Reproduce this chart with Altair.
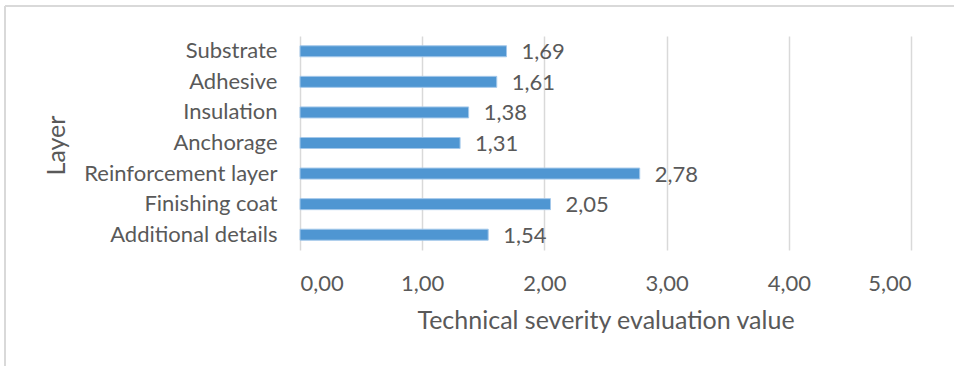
import altair as alt
import pandas as pd

# Layer categories (top to bottom) and their technical severity evaluation values
layers = [
    "Substrate",
    "Adhesive",
    "Insulation",
    "Anchorage",
    "Reinforcement layer",
    "Finishing coat",
    "Additional details",
]
values = [1.69, 1.61, 1.38, 1.31, 2.78, 2.05, 1.54]
x_ticks = [0, 1, 2, 3, 4, 5]

df = pd.DataFrame({"layer": layers, "value": values})

FONT = "Lato"
TEXT = "#595959"
GRID = "#D9D9D9"
comma_fmt = "replace(format(datum.value, '.2f'), '.', ',')"

x_enc = alt.X(
    "value:Q",
    scale=alt.Scale(domain=[0, 5], nice=False),
    axis=alt.Axis(
        values=x_ticks,
        labelExpr=comma_fmt,
        title="Technical severity evaluation value",
        grid=True,
        gridColor=GRID,
        gridWidth=1.5,
        domain=False,
        ticks=False,
        labelFont=FONT,
        labelFontSize=22,
        labelColor=TEXT,
        labelPadding=23,
        titleFont=FONT,
        titleFontSize=25,
        titleFontWeight="normal",
        titleColor=TEXT,
        titleBaseline="alphabetic",
        titleY=78,
    ),
)
y_enc = alt.Y(
    "layer:N",
    sort=layers,
    scale=alt.Scale(paddingInner=0, paddingOuter=0),
    axis=alt.Axis(
        title="Layer",
        domain=False,
        ticks=False,
        grid=False,
        labelFont=FONT,
        labelFontSize=22,
        labelColor=TEXT,
        labelPadding=23,
        labelLimit=0,
        titleFont=FONT,
        titleFontSize=25,
        titleFontWeight="normal",
        titleColor=TEXT,
        titleAngle=270,
        titleAlign="center",
        titleBaseline="middle",
        titleX=-244,
        titleY=109,
    ),
)

bars = alt.Chart(df).mark_bar(
    size=11, color="#4F96D2", stroke="#A4C8EA", strokeWidth=1
).encode(x=x_enc, y=y_enc)

labels = alt.Chart(df).transform_calculate(
    label=comma_fmt
).mark_text(
    align="left", baseline="middle", dx=15, dy=1,
    font=FONT, fontSize=22, color=TEXT
).encode(
    x=alt.X("value:Q"),
    y=alt.Y("layer:N", sort=layers),
    text="label:N",
)

# light frame lines along the top and left of the chart
frame_top = alt.Chart(df).mark_rule(color=GRID, strokeWidth=1.5).encode(
    x=alt.value(-295), x2=alt.value(660), y=alt.value(-30)
)
frame_left = alt.Chart(df).mark_rule(color=GRID, strokeWidth=1.5).encode(
    x=alt.value(-295), y=alt.value(-30), y2=alt.value(340)
)

chart = alt.layer(bars, labels, frame_top, frame_left).properties(
    width=611,
    height=214,
    autosize=alt.AutoSizeParams(type="none"),
    padding={"left": 300, "top": 36, "right": 43, "bottom": 116},
    background="white",
).configure_view(stroke=None)

chart.save("out.html", embed_options={"renderer": "svg", "actions": False})
